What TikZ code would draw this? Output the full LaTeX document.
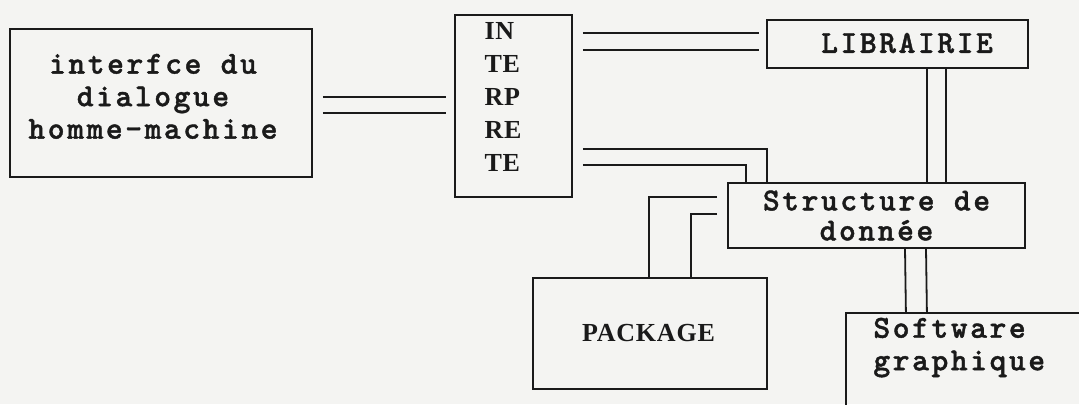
\documentclass[tikz,border=0pt]{standalone}
\usepackage{fontspec}
\usepackage{tikz}
\usetikzlibrary{
  positioning
}
\newfontfamily\dotfont{lmmonolt10-bold.otf}[LetterSpace=8, FakeBold=1.3]
\newfontfamily\boldserif{Liberation Serif}[LetterSpace=3]
\definecolor{scanBg}{HTML}{F4F4F2}
\definecolor{scanInk}{HTML}{1A1A1A}
\tikzset{
  block/.style={draw=scanInk, line width=0.9pt, inner sep=0pt},
  dottext/.style={
    font=\dotfont\fontsize{16pt}{#1}\selectfont,
    text=scanInk, inner sep=0pt, align=center
  },
  dottext/.default=16.25pt,
  seriftext/.style={
    font=\boldserif\bfseries\fontsize{13pt}{16.5pt}\selectfont,
    text=scanInk, inner sep=0pt, align=left
  },
  link/.style={draw=scanInk, line width=0.9pt}
}

\begin{document}
\begin{tikzpicture}[x=0.5pt, y=-0.5pt]
  \clip (0,0) rectangle (1079,404);
  \fill[scanBg] (0,0) rectangle (1079,404);

  \node[block, minimum width=151pt, minimum height=74pt,
    label={[dottext, anchor=north, xshift=-4pt, yshift=-12.7pt]north:{interfce du\\dialogue\\homme-machine}}]
    (ihm) at (161,103) {};
  \node[block, minimum width=58.5pt, minimum height=91pt,
    label={[seriftext, anchor=north west, xshift=15pt, yshift=-4pt]north west:{IN\\TE\\RP\\RE\\TE}}]
    (interp) at (513.5,106) {};
  \node[block, minimum width=130.5pt, minimum height=24pt,
    label={[dottext, anchor=base, xshift=4.75pt, yshift=0.5pt]center:LIBRAIRIE}]
    (lib) at (897.5,44) {};
  \node[block, dottext=15pt, minimum width=148.5pt, minimum height=32.5pt]
    (struct) at (876.5,215.5) {Structure de\\donnée};
  \node[block, minimum width=117pt, minimum height=55.5pt,
    label={[seriftext, anchor=base, xshift=-0.75pt, yshift=0.25pt]center:PACKAGE}]
    (pkg) at (650,333.5) {};
  \node[block, anchor=north west, minimum width=130pt, minimum height=60pt,
    label={[dottext, align=left, anchor=north west, xshift=14pt, yshift=-2.7pt]north west:{Software\\graphique}}]
    (soft) at (845,312) {};

  \draw[link, shorten <=5pt, shorten >=4pt] ([yshift=3pt]ihm.east) -- ([yshift=4.5pt]interp.west);
  \draw[link, shorten <=5pt, shorten >=4pt] ([yshift=-5pt]ihm.east) -- ([yshift=-3.5pt]interp.west);
  \draw[link, shorten <=5pt, shorten >=3.5pt] ([yshift=36.5pt]interp.east) -- ([yshift=5.5pt]lib.west);
  \draw[link, shorten <=5pt, shorten >=3.5pt] ([yshift=28pt]interp.east) -- ([yshift=-3pt]lib.west);
  \draw[link, shorten <=5pt] ([yshift=-21.5pt]interp.east) -| ([xshift=20pt]struct.north west);
  \draw[link, shorten <=5pt] ([yshift=-29.5pt]interp.east) -| ([xshift=9.5pt]struct.north west);
  \draw[link] ([xshift=14.75pt]lib.south) -- ([xshift=25.25pt]struct.north);
  \draw[link] ([xshift=24.25pt]lib.south) -- ([xshift=34.75pt]struct.north);
  \draw[link, shorten <=5pt] ([yshift=9.25pt]struct.west) -| ([xshift=-0.5pt]pkg.north);
  \draw[link, shorten <=5pt] ([yshift=0.75pt]struct.west) -| ([xshift=20.5pt]pkg.north);
  \draw[link] ([xshift=14.25pt]struct.south) -- ([xshift=-35pt]soft.north);
  \draw[link] ([xshift=24.75pt]struct.south) -- ([xshift=-24.5pt]soft.north);
\end{tikzpicture}
\end{document}
